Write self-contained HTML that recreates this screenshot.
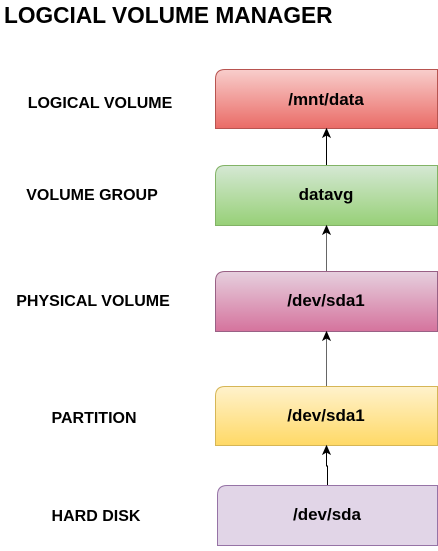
<!DOCTYPE html>
<html><head><style>body{margin:0;background:#fff}</style></head><body>
<svg width="438" height="546" xmlns="http://www.w3.org/2000/svg" font-family="Liberation Sans, sans-serif" font-weight="bold">
<defs>
<linearGradient id="r" x1="0" y1="0" x2="0" y2="1"><stop offset="0" stop-color="#f8cecc"/><stop offset="1" stop-color="#ea6b66"/></linearGradient>
<linearGradient id="g" x1="0" y1="0" x2="0" y2="1"><stop offset="0" stop-color="#d5e8d4"/><stop offset="1" stop-color="#97d077"/></linearGradient>
<linearGradient id="p" x1="0" y1="0" x2="0" y2="1"><stop offset="0" stop-color="#e6d0de"/><stop offset="1" stop-color="#d5739d"/></linearGradient>
<linearGradient id="y" x1="0" y1="0" x2="0" y2="1"><stop offset="0" stop-color="#fff2cc"/><stop offset="1" stop-color="#ffd966"/></linearGradient>
</defs>
<text x="4" y="23" font-size="22.7" fill="#000">LOGCIAL VOLUME MANAGER</text>
<g font-size="16" text-anchor="middle" fill="#000">
<text x="100" y="108">LOGICAL VOLUME</text>
<text x="92" y="200">VOLUME GROUP</text>
<text x="93" y="306">PHYSICAL VOLUME</text>
<text x="94" y="423">PARTITION</text>
<text x="96" y="521">HARD DISK</text>
</g>
<path d="M215.5 128.5 V79 Q215.5 69.5 225 69.5 H437.5 V128.5 Z" fill="url(#r)" stroke="#b85450"/>
<path d="M215.5 225.5 V175 Q215.5 165.5 225 165.5 H437.5 V225.5 Z" fill="url(#g)" stroke="#82b366"/>
<path d="M215.5 331.5 V281 Q215.5 271.5 225 271.5 H437.5 V331.5 Z" fill="url(#p)" stroke="#996185"/>
<path d="M215.5 445.5 V396 Q215.5 386.5 225 386.5 H437.5 V445.5 Z" fill="url(#y)" stroke="#d6b656"/>
<path d="M217.5 545.5 V495 Q217.5 485.5 227 485.5 H437.5 V545.5 Z" fill="#e1d5e7" stroke="#9673a6"/>
<g font-size="17" text-anchor="middle" fill="#000">
<text x="326" y="105">/mnt/data</text>
<text x="326" y="200">datavg</text>
<text x="326" y="306">/dev/sda1</text>
<text x="326" y="421">/dev/sda1</text>
<text x="327" y="520">/dev/sda</text>
</g>
<g stroke="#000" fill="#000">
<line x1="326.5" y1="165" x2="326.5" y2="135"/><path d="M326.5 129 L330 137 L326.5 135 L323 137 Z"/>
<line x1="326.5" y1="271" x2="326.5" y2="232" stroke="#666"/><path d="M326.5 226 L330 234 L326.5 232 L323 234 Z"/>
<line x1="326.5" y1="386" x2="326.5" y2="338" stroke="#666"/><path d="M326.5 332 L330 340 L326.5 338 L323 340 Z"/>
<path d="M327.5 485 V466 H326.5 V452" fill="none"/><path d="M326.5 446 L330 454 L326.5 452 L323 454 Z"/>
</g>
</svg>
</body></html>
